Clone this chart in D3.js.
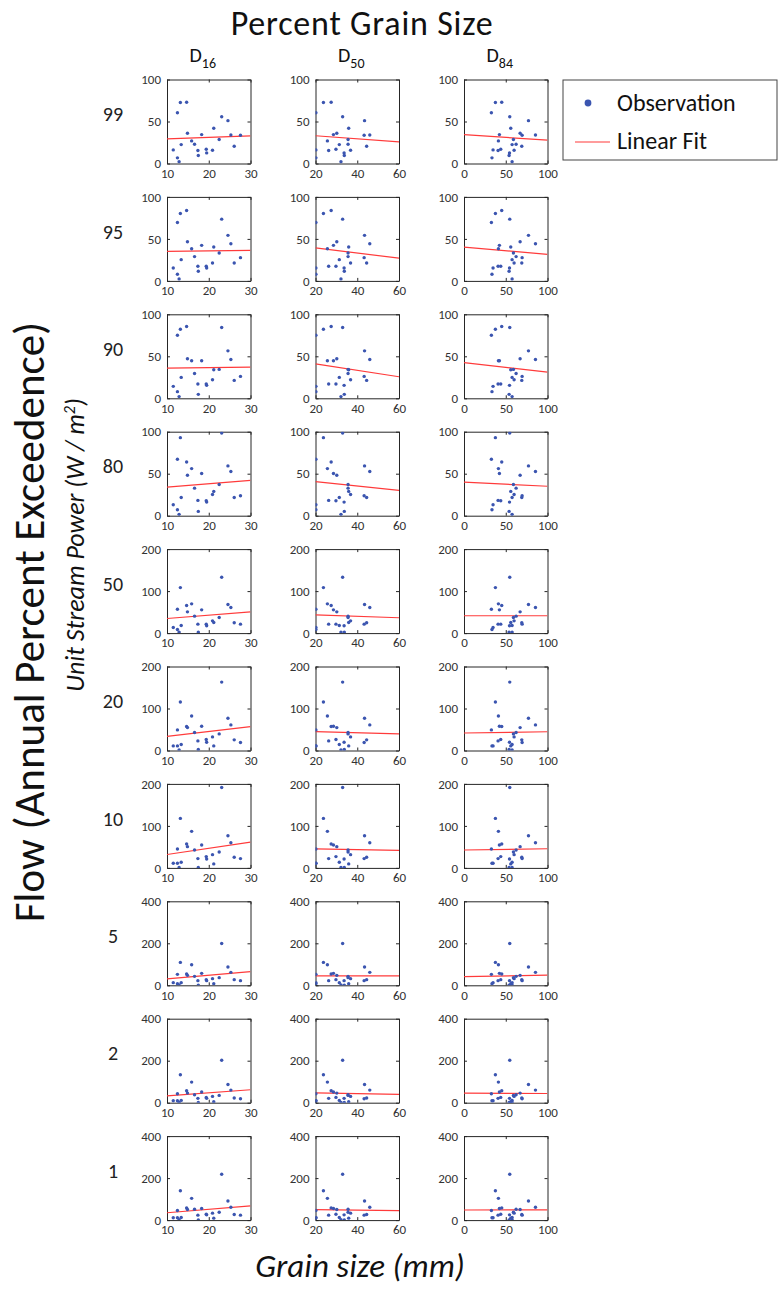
<!DOCTYPE html>
<html>
<head>
<meta charset="utf-8">
<script src="https://cdn.jsdelivr.net/npm/d3@7"></script>
<style>
  html, body { margin: 0; padding: 0; background: #fff; }
  svg { display: block; }
  text { font-family: Carlito, Lato, "Open Sans", sans-serif; }
</style>
</head>
<body>
<div id="chart"></div>
<script>
// Grain size percentiles (mm) for each surveyed site
const d16 = [11.5, 12.5, 12.5, 12.9, 13.2, 13.4, 14.7, 14.9, 15.9, 16.6, 17.4, 17.5, 18.3, 19.4, 19.5, 20.9, 21.2, 22.5, 23.1, 24.6, 25.3, 26.1, 27.6];
const d50 = [20.2, 20.2, 20.2, 32.2, 23.8, 31.4, 27.5, 30.2, 25.7, 35.6, 26.3, 33.8, 28.6, 29.8, 33.7, 36.8, 35.9, 35.6, 33.0, 43.5, 46.0, 44.5, 43.3];
const d84 = [34.8, 32.8, 33.5, 57.6, 37.6, 57.6, 45.2, 67.2, 41.2, 62.4, 40.8, 54.0, 42.4, 44.0, 54.5, 60.0, 56.0, 59.2, 54.8, 77.2, 85.6, 69.2, 69.6];

// Unit stream power (W/m^2) at each annual percent exceedance flow, same site order
const power99 = [16.2, 60.5, 6.7, 2.0, 72.7, 22.5, 73.0, 36.0, 26.9, 23.0, 15.4, 9.5, 34.4, 17.0, 12.6, 15.8, 41.9, 28.5, 55.7, 51.0, 34.0, 20.6, 33.6];
const power95 = [15.4, 69.6, 7.9, 2.4, 80.2, 25.3, 83.8, 46.6, 38.3, 28.9, 17.4, 11.5, 42.3, 17.4, 15.4, 21.3, 40.3, 33.2, 73.5, 54.2, 44.3, 21.3, 27.7];
const power90 = [14.2, 75.1, 7.9, 2.0, 82.2, 24.9, 85.4, 47.0, 44.7, 29.6, 17.0, 4.7, 44.7, 17.0, 15.4, 22.1, 34.0, 34.4, 84.2, 56.5, 46.2, 21.3, 26.1];
const power80 = [13.0, 67.2, 7.1, 1.6, 92.9, 21.7, 64.0, 48.2, 56.1, 32.8, 18.2, 5.1, 50.2, 17.8, 16.2, 25.3, 28.9, 37.2, 98.4, 59.3, 52.6, 21.7, 23.7];
const power50 = [13.4, 56.9, 8.7, 2.4, 108.3, 18.2, 65.6, 50.6, 69.6, 40.3, 21.3, 2.4, 55.3, 21.3, 17.4, 29.2, 25.3, 37.2, 132.8, 68.0, 60.9, 24.5, 21.3];
const power20 = [11.0, 49.0, 11.0, 1.6, 115.4, 14.2, 57.0, 54.5, 82.2, 42.7, 22.9, 2.4, 57.7, 26.1, 19.8, 32.4, 11.0, 39.5, 162.8, 76.7, 60.9, 25.3, 19.0];
const power10 = [11.0, 45.0, 11.0, 0.8, 117.8, 13.4, 57.0, 50.6, 87.0, 42.7, 22.1, 0.8, 54.5, 26.9, 21.3, 31.6, 9.5, 37.9, 191.3, 76.7, 60.0, 25.3, 22.1];
const power5  = [12.6, 52.2, 7.9, 1.6, 109.0, 12.6, 53.8, 47.4, 98.0, 42.7, 22.1, 1.0, 56.9, 26.9, 22.1, 31.6, 7.9, 36.4, 199.0, 87.0, 61.7, 26.9, 22.1];
const power2  = [9.5, 42.7, 9.5, 1.6, 132.8, 11.0, 56.9, 45.8, 98.0, 37.9, 20.6, 1.0, 50.6, 25.3, 20.6, 30.0, 4.7, 34.8, 202.0, 87.0, 60.0, 22.1, 19.0];
const power1  = [11.0, 45.5, 11.0, 1.6, 139.6, 12.5, 58.0, 50.2, 103.5, 51.8, 23.5, 1.0, 55.0, 28.2, 25.0, 33.0, 9.4, 37.6, 218.0, 91.0, 61.0, 26.7, 23.5];

const flowLabels = ["99", "95", "90", "80", "50", "20", "10", "5", "2", "1"];
const flowPower = [power99, power95, power90, power80, power50, power20, power10, power5, power2, power1];
const yTicksSmall = [0, 50, 100];
const yTicksMid = [0, 100, 200];
const yTicksLarge = [0, 200, 400];
const flowYTicks = [yTicksSmall, yTicksSmall, yTicksSmall, yTicksSmall, yTicksMid, yTicksMid, yTicksMid, yTicksLarge, yTicksLarge, yTicksLarge];

const grainNames = ["16", "50", "84"];
const grainSizes = [d16, d50, d84];
const xTicks16 = [10, 20, 30];
const xTicks50 = [20, 40, 60];
const xTicks84 = [0, 50, 100];
const grainXTicks = [xTicks16, xTicks50, xTicks84];

// Layout
const W = 778, H = 1293;
const colLeft = [167, 315.5, 464];
const panelW = 83.5, panelH = 84;
const rowTop0 = 79.5, rowStep = 117.4;

const dotColor = "#3b55b0";
const fitColor = "#ff3b3b";
const axisColor = "#262626";
const tickTextColor = "#333";

const svg = d3.select("#chart").append("svg")
  .attr("width", W).attr("height", H);

// Ordinary least squares line
function linFit(xs, ys) {
  const mx = d3.mean(xs), my = d3.mean(ys);
  let sxy = 0, sxx = 0;
  xs.forEach((x, i) => { sxy += (x - mx) * (ys[i] - my); sxx += (x - mx) * (x - mx); });
  const b = sxy / sxx;
  return { a: my - b * mx, b };
}

flowPower.forEach((power, r) => {
  const top = rowTop0 + r * rowStep;
  const yt = flowYTicks[r];
  const y = d3.scaleLinear().domain([yt[0], yt[yt.length - 1]]).range([panelH, 0]);

  // flow exceedance label for the row
  svg.append("text")
    .attr("x", 113).attr("y", top + panelH / 2 - 5)
    .attr("text-anchor", "middle").attr("dominant-baseline", "middle")
    .attr("font-size", 20).attr("fill", "#222")
    .text(flowLabels[r]);

  grainSizes.forEach((gs, c) => {
    const xt = grainXTicks[c];
    const x = d3.scaleLinear().domain([xt[0], xt[xt.length - 1]]).range([0, panelW]);
    const g = svg.append("g").attr("transform", `translate(${colLeft[c]},${top})`);

    const clipId = `clip-${r}-${c}`;
    g.append("clipPath").attr("id", clipId)
      .append("rect").attr("width", panelW).attr("height", panelH);

    // axes with inward ticks, mirrored on top and right
    const styleAxis = sel => {
      sel.select(".domain").attr("stroke", axisColor).attr("stroke-width", 1);
      sel.selectAll(".tick line").attr("stroke", axisColor);
      sel.selectAll(".tick text").attr("fill", tickTextColor)
        .attr("font-size", 13).attr("font-family", "Carlito, Lato, sans-serif");
    };
    g.append("g").attr("transform", `translate(0,${panelH})`)
      .call(d3.axisBottom(x).tickValues(xt).tickSizeInner(-3).tickSizeOuter(0).tickPadding(5))
      .call(styleAxis);
    g.append("g")
      .call(d3.axisTop(x).tickValues(xt).tickSizeInner(-3).tickSizeOuter(0).tickFormat(""))
      .call(styleAxis);
    g.append("g")
      .call(d3.axisLeft(y).tickValues(yt).tickSizeInner(-3).tickSizeOuter(0).tickPadding(6))
      .call(styleAxis);
    g.append("g").attr("transform", `translate(${panelW},0)`)
      .call(d3.axisRight(y).tickValues(yt).tickSizeInner(-3).tickSizeOuter(0).tickFormat(""))
      .call(styleAxis);

    const plot = g.append("g").attr("clip-path", `url(#${clipId})`);

    // linear fit across the full grain size range
    const fit = linFit(gs, power);
    const x0 = xt[0], x1 = xt[xt.length - 1];
    plot.append("line")
      .attr("x1", x(x0)).attr("y1", y(fit.a + fit.b * x0))
      .attr("x2", x(x1)).attr("y2", y(fit.a + fit.b * x1))
      .attr("stroke", fitColor).attr("stroke-width", 1.2);

    // observations
    plot.selectAll("circle").data(gs.map((v, i) => [v, power[i]]))
      .join("circle")
      .attr("cx", d => x(d[0])).attr("cy", d => y(d[1]))
      .attr("r", 1.7).attr("fill", dotColor);

    // column header above the first row
    if (r === 0) {
      const t = svg.append("text")
        .attr("x", colLeft[c] + panelW / 2 - 6).attr("y", 62)
        .attr("text-anchor", "middle").attr("font-size", 20).attr("fill", "#111");
      t.append("tspan").text("D");
      t.append("tspan").attr("dy", 6).attr("font-size", 14).text(grainNames[c]);
    }
  });
});

// Titles
svg.append("text")
  .attr("x", 362).attr("y", 34.5).attr("text-anchor", "middle")
  .attr("font-size", 34).attr("letter-spacing", 0.8).attr("fill", "#111")
  .text("Percent Grain Size");

svg.append("text")
  .attr("transform", "translate(44,622) rotate(-90)")
  .attr("text-anchor", "middle").attr("font-size", 43).attr("fill", "#111")
  .text("Flow (Annual Percent Exceedence)");

const yl = svg.append("text")
  .attr("transform", "translate(84,545) rotate(-90)")
  .attr("text-anchor", "middle").attr("font-size", 26).attr("font-style", "italic").attr("fill", "#111");
yl.append("tspan").text("Unit Stream Power  (W / m");
yl.append("tspan").attr("dy", -9).attr("font-size", 16).text("2");
yl.append("tspan").attr("dy", 9).text(")");

svg.append("text")
  .attr("x", 360).attr("y", 1277).attr("text-anchor", "middle")
  .attr("font-size", 33).attr("font-style", "italic").attr("fill", "#111")
  .text("Grain size (mm)");

// Legend
const lg = svg.append("g").attr("transform", "translate(563,80)");
lg.append("rect").attr("width", 214).attr("height", 80)
  .attr("fill", "#fff").attr("stroke", "#444").attr("stroke-width", 1);
lg.append("circle").attr("cx", 25).attr("cy", 23).attr("r", 3.4).attr("fill", dotColor);
lg.append("text").attr("x", 54).attr("y", 31).attr("font-size", 24).attr("fill", "#111").text("Observation");
lg.append("line").attr("x1", 12).attr("x2", 47).attr("y1", 62).attr("y2", 62)
  .attr("stroke", fitColor).attr("stroke-width", 1.2);
lg.append("text").attr("x", 54).attr("y", 69).attr("font-size", 24).attr("fill", "#111").text("Linear Fit");
</script>
</body>
</html>
